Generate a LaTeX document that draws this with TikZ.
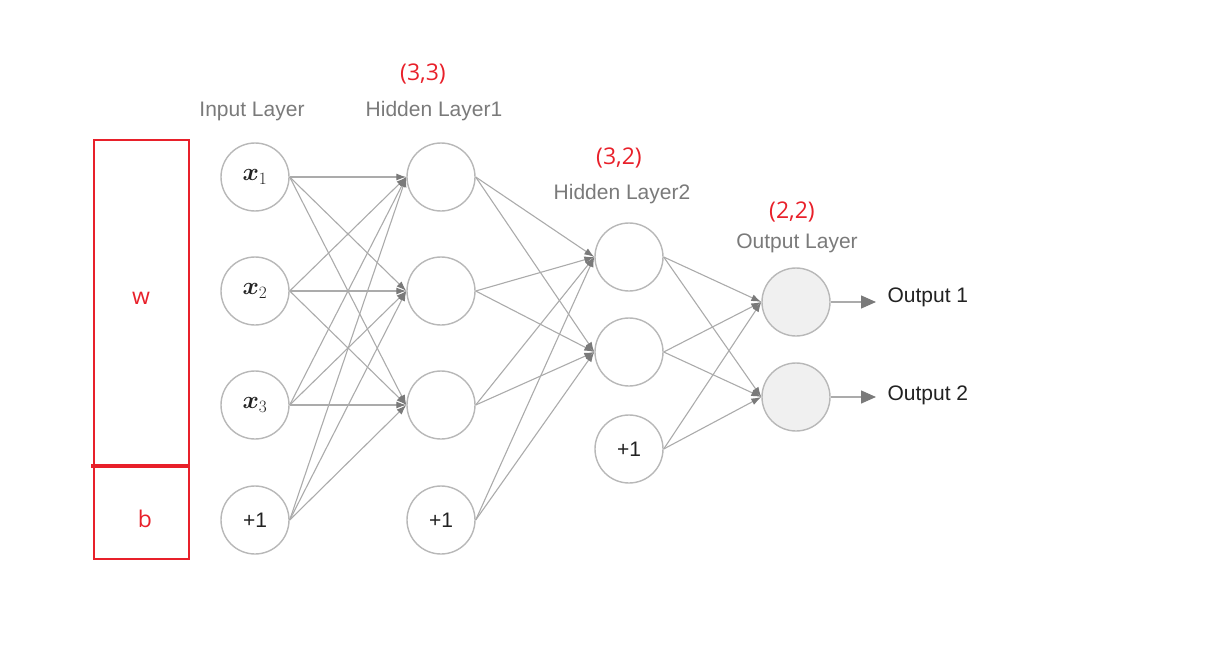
\documentclass[tikz,border=0pt]{standalone}
\usepackage{bm}
\usepackage{fontspec}
\setmainfont{Liberation Sans}
\newfontfamily\redfont{Open Sans}
\usetikzlibrary{arrows.meta}
\definecolor{edgec}{HTML}{ABABAB}
\definecolor{nodeline}{HTML}{B8B8B8}
\definecolor{tipgray}{HTML}{7A7A7A}
\definecolor{labelgray}{HTML}{7A7A7A}
\definecolor{outfill}{HTML}{F0F0F0}
\definecolor{redc}{HTML}{E8202A}
\definecolor{outtext}{HTML}{222222}
\begin{document}
\begin{tikzpicture}[x=1pt,y=-1pt,
  neuron/.style={circle,draw=nodeline,line width=1.4pt,minimum size=68pt,inner sep=0pt,fill=white,
    text=outtext,font=\fontsize{21}{25}\selectfont},
  outneuron/.style={neuron,fill=outfill},
  layerlabel/.style={text=labelgray,font=\fontsize{21}{24}\selectfont},
  redlabel/.style={text=redc,font=\redfont\fontsize{23}{26}\selectfont},
  outlabel/.style={text=outtext,anchor=west,font=\fontsize{21}{24}\selectfont},
  conn/.style={draw=edgec,line width=1.1pt,-{Latex[length=10pt,width=7pt,color=tipgray]}},
  outconn/.style={draw=edgec,line width=1.4pt,-{Triangle[length=15pt,width=13pt,color=tipgray]}},
  redbox/.style={draw=redc,line width=1.6pt},
  redbar/.style={draw=redc,line width=3.5pt}]
\useasboundingbox (0,0) rectangle (1220,650);
% input layer
\node[neuron] (i1) at (255,177) {\fontsize{24}{28}\selectfont$\bm{x}_1$};
\node[neuron] (i2) at (255,291) {\fontsize{24}{28}\selectfont$\bm{x}_2$};
\node[neuron] (i3) at (255,405) {\fontsize{24}{28}\selectfont$\bm{x}_3$};
\node[neuron] (i4) at (255,520) {+1};
% hidden layer 1
\node[neuron] (h1) at (441,177) {};
\node[neuron] (h2) at (441,291) {};
\node[neuron] (h3) at (441,405) {};
\node[neuron] (h4) at (441,520) {+1};
% hidden layer 2
\node[neuron] (g1) at (629,257) {};
\node[neuron] (g2) at (629,352) {};
\node[neuron] (g3) at (629,449) {+1};
% output layer
\node[outneuron] (o1) at (796,302) {};
\node[outneuron] (o2) at (796,397) {};
% labels
\node[layerlabel] (lin) at (252,111) {Input Layer};
\node[layerlabel] (lh1) at (434,111) {Hidden Layer1};
\node[layerlabel] (lh2) at (622,194) {Hidden Layer2};
\node[layerlabel] (lout) at (797,243) {Output Layer};
\node[redlabel] (r1) at (423,74) {(3,3)};
\node[redlabel] (r2) at (619,158) {(3,2)};
\node[redlabel] (r3) at (792,212) {(2,2)};
% connections
\foreach \s in {i1,i2,i3,i4}
  \foreach \t in {h1,h2,h3}
    \draw[conn] (\s.east) -- (\t.west);
\foreach \s in {h1,h2,h3,h4}
  \foreach \t in {g1,g2}
    \draw[conn] (\s.east) -- (\t.west);
\foreach \s in {g1,g2,g3}
  \foreach \t in {o1,o2}
    \draw[conn] (\s.east) -- (\t.west);
% outputs
\node[outlabel] (t1) at (884,297) {Output 1};
\node[outlabel] (t2) at (884,395) {Output 2};
\coordinate (e1) at (876,302);
\coordinate (e2) at (876,397);
\draw[outconn] (o1.east) -- (e1);
\draw[outconn] (o2.east) -- (e2);
% red box
\coordinate (bw) at (94,140);
\coordinate (be) at (189,559);
\draw[redbox] (bw) rectangle (be);
\coordinate (m1) at (91,466);
\coordinate (m2) at (189,466);
\draw[redbar] (m1) -- (m2);
\node[redlabel] (w) at (141,298) {w};
\node[redlabel] (b) at (145,519) {b};
\end{tikzpicture}
\end{document}
